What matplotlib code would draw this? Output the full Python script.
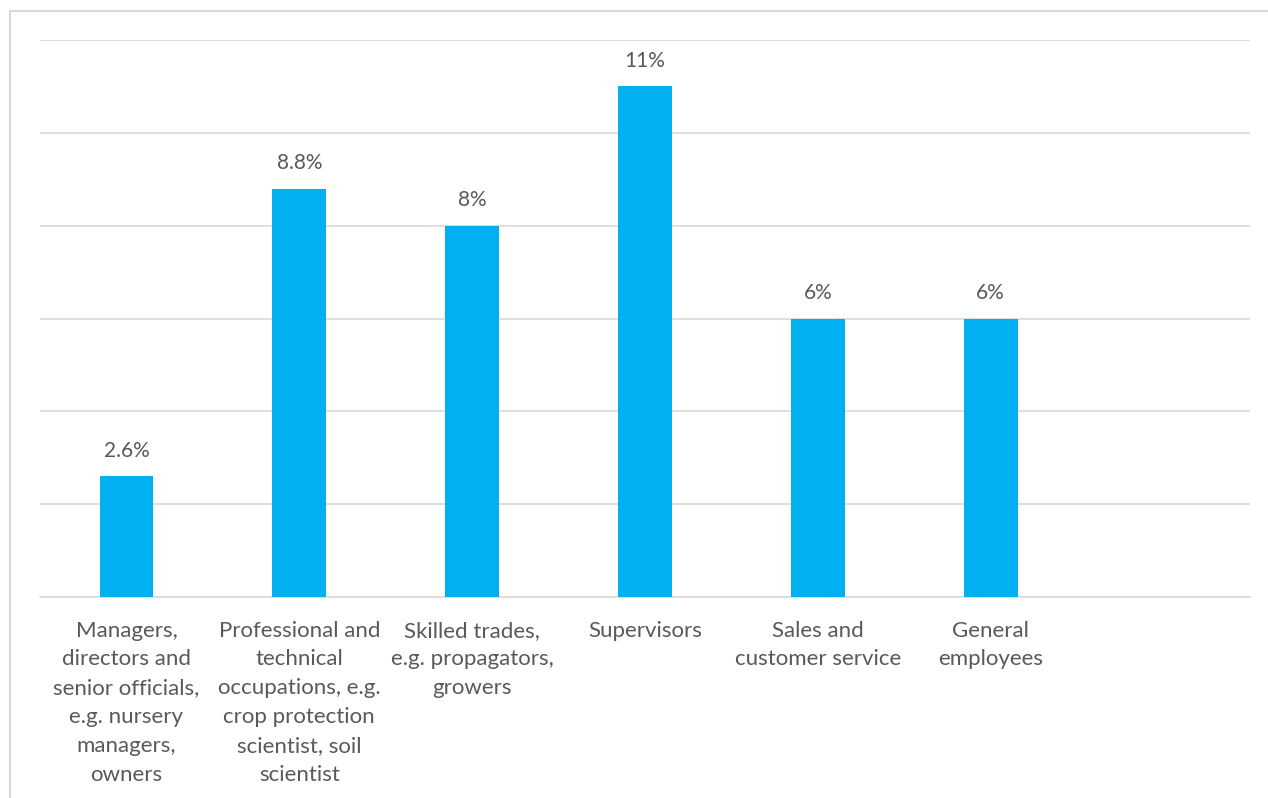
import matplotlib.pyplot as plt
from matplotlib.patches import Rectangle

categories = [
    "Managers,\ndirectors and\nsenior officials,\ne.g. nursery\nmanagers,\nowners",
    "Professional and\ntechnical\noccupations, e.g.\ncrop protection\nscientist, soil\nscientist",
    "Skilled trades,\ne.g. propagators,\ngrowers",
    "Supervisors",
    "Sales and\ncustomer service",
    "General\nemployees",
    "",
]
values = [2.6, 8.8, 8.0, 11.0, 6.0, 6.0]
value_labels = ["2.6%", "8.8%", "8%", "11%", "6%", "6%"]

plt.rcParams['font.family'] = ['Lato', 'DejaVu Sans']
txt = '#595959'

fig = plt.figure(figsize=(12.68, 7.98), dpi=100)
ax = fig.add_axes([40/1268, 1 - 597/798, 1210/1268, 557/798])

# chart border
fig.patches.append(Rectangle((10/1268, -0.1), 1.2, 1 - 11/798 + 0.1, transform=fig.transFigure,
                             fill=False, edgecolor='#d9d9d9', linewidth=1.5))

x = list(range(len(categories)))
ax.bar(x[:len(values)], values, width=0.31, color='#00B0F0', zorder=3)
for xi, v, lab in zip(x, values, value_labels):
    ax.text(xi, v + 0.33, lab, ha='center', va='bottom', fontsize=15, color=txt)

ax.set_xlim(-0.5, 6.5)
ax.set_ylim(0, 12)
ax.set_yticks(range(0, 13, 2))
ax.set_yticklabels([])
ax.yaxis.grid(True, color='#d9d9d9', linewidth=1.2, zorder=0)
ax.tick_params(axis='both', length=0)
ax.set_xticks(x)
ax.set_xticklabels(categories, fontsize=16, color=txt, linespacing=1.55, va='top')
ax.tick_params(axis='x', pad=17)
for s in ['top', 'right', 'left']:
    ax.spines[s].set_visible(False)
ax.spines['bottom'].set_color('#d9d9d9')
ax.spines['bottom'].set_linewidth(1.2)

fig.savefig('out.png', dpi=100)
